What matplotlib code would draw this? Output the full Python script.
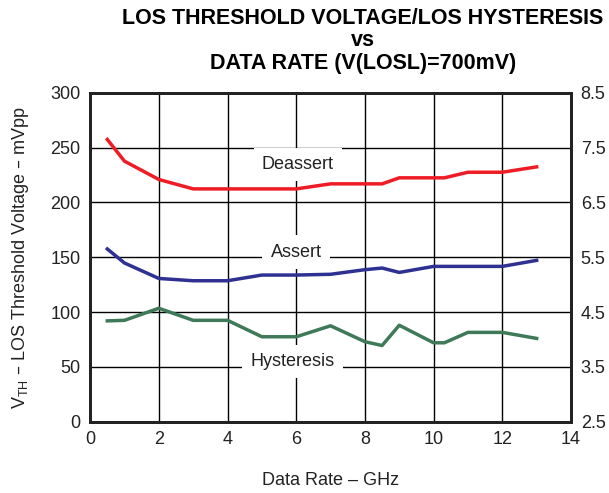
import matplotlib
matplotlib.use('Agg')
import matplotlib.pyplot as plt

plt.rcParams['font.family'] = ['Liberation Sans', 'DejaVu Sans']

# Data rate (GHz)
rates = [0.5, 1, 2, 3, 4, 5, 6, 7, 8, 8.5, 9, 10, 10.3125, 11, 12, 13]
# Thresholds (mVpp, left axis)
deassert = [257.5, 237.7, 221, 212.4, 212.4, 212.4, 212.4, 217, 217, 217,
            222.5, 222.5, 222.5, 227.6, 227.6, 232.5]
assert_ = [157.6, 144.8, 130.7, 128.6, 128.6, 133.8, 133.8, 134.5, 138.7, 140.2,
           136.2, 141.7, 141.7, 141.7, 141.7, 147.2]
# Hysteresis (dB, right axis)
hysteresis = [4.34, 4.35, 4.57, 4.35, 4.35, 4.05, 4.05, 4.25, 3.96, 3.89,
              4.26, 3.94, 3.94, 4.13, 4.13, 4.02]

fig = plt.figure(figsize=(6.09, 4.93), dpi=100)
ax = fig.add_axes([0.148, 0.1446, 0.7896, 0.667])
ax2 = ax.twinx()

ax.set_xlim(0, 14)
ax.set_ylim(0, 300)
ax.set_xticks(range(0, 15, 2))
ax.set_yticks(range(0, 301, 50))
ax2.set_ylim(2.5, 8.5)
ax2.set_yticks([2.5, 3.5, 4.5, 5.5, 6.5, 7.5, 8.5])
ax2.set_yticklabels(['2.5', '3.5', '4.5', '5.5', '6.5', '7.5', '8.5'])

ax.grid(True, color='black', linewidth=1)
ax.set_axisbelow(True)
for a in (ax, ax2):
	a.tick_params(length=0, labelsize=13, colors='#222222', pad=7)
	for s in a.spines.values():
		s.set_linewidth(2)
		s.set_color('#222222')

ax.plot(rates, deassert, color='#ee1c25', linewidth=2.5, zorder=3)
ax.plot(rates, assert_, color='#2e3192', linewidth=2.5, zorder=3)
ax2.plot(rates, hysteresis, color='#3e7a58', linewidth=2.5, zorder=3)

box = dict(facecolor='white', edgecolor='none', pad=6)
ax.text(6.05, 234.6, 'Deassert', ha='center', va='center', fontsize=13, color='#222222', bbox=box, zorder=2)
ax.text(6.0, 154.8, 'Assert', ha='center', va='center', fontsize=13, color='#222222', bbox=box, zorder=2)
ax.text(5.9, 54.8, 'Hysteresis', ha='center', va='center', fontsize=13, color='#222222', bbox=box, zorder=2)

ax.set_xlabel('Data Rate \u2013 GHz', fontsize=13, color='#222222', labelpad=17)
ax.set_ylabel('V$_{\\mathregular{TH}}$ \u2013 LOS Threshold Voltage \u2013 mVpp', fontsize=13, color='#222222', labelpad=14)

fig.text(0.596, 0.984, 'LOS THRESHOLD VOLTAGE/LOS HYSTERESIS\nvs\nDATA RATE (V(LOSL)=700mV)',
         ha='center', va='top', fontsize=15.5, fontweight='bold', linespacing=1.09)

fig.savefig('out.png', dpi=100)
